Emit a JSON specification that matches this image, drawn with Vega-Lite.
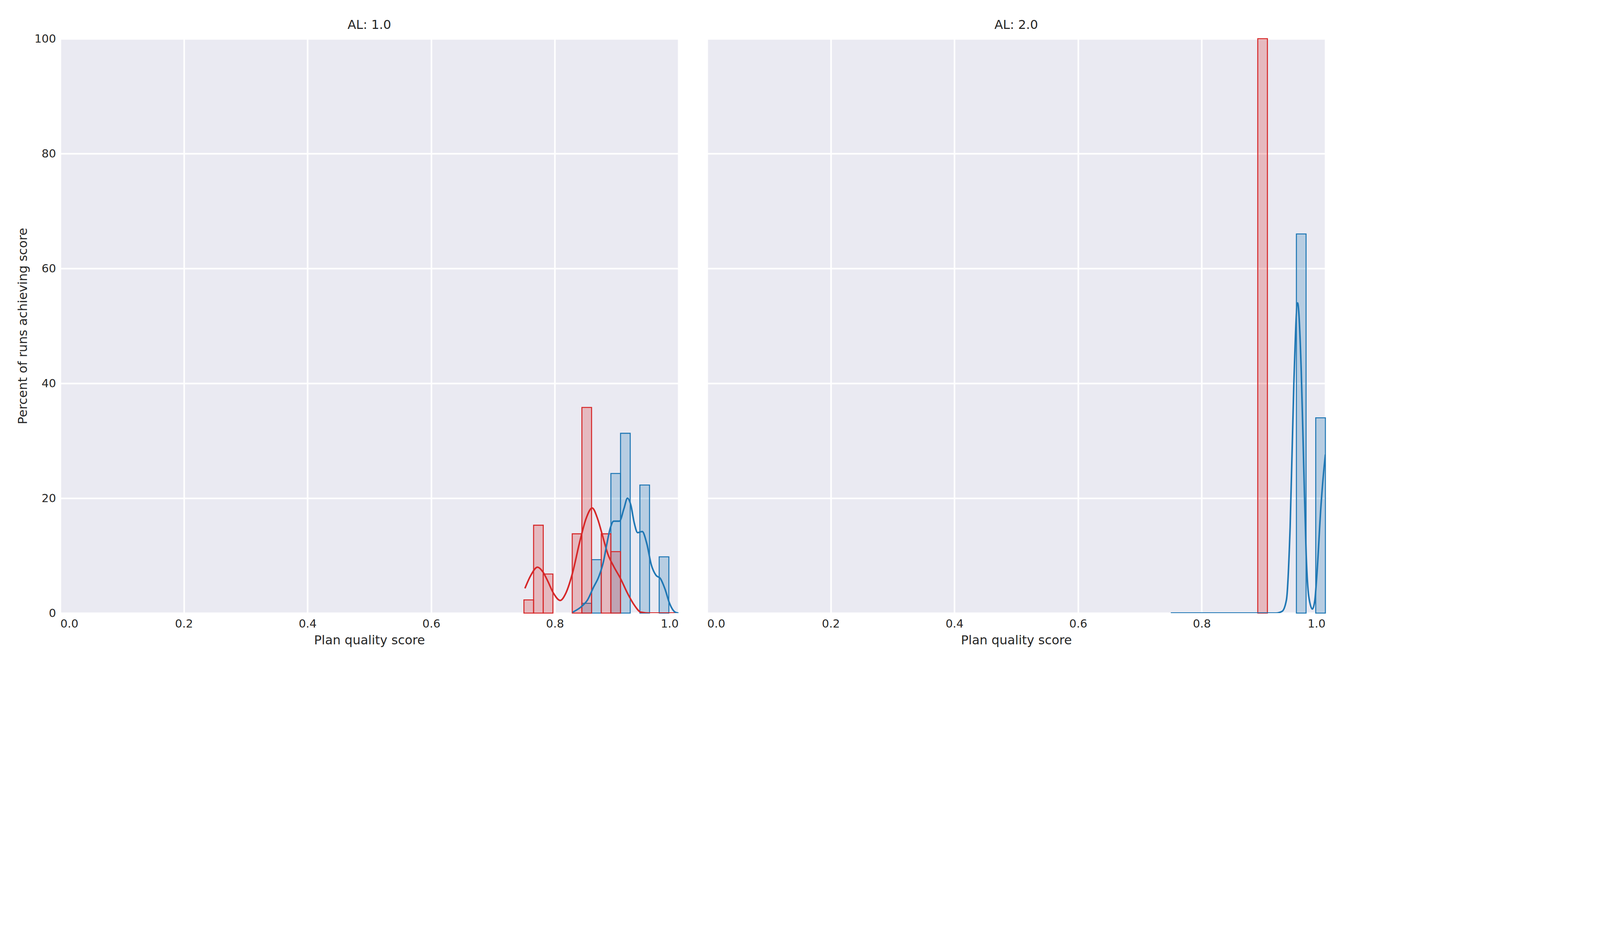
{
"$schema":"https://vega.github.io/schema/vega-lite/v6.json",
"background":"white",
"padding":{"left":42,"top":48,"right":20,"bottom":20},
"config":{"view":{"fill":"#EAEAF2","stroke":null},
"axis":{"domain":false,"ticks":false,"grid":true,"gridColor":"white","gridWidth":4,"labelFont":"DejaVu Sans","labelFontSize":29,"labelColor":"#262626","titleFont":"DejaVu Sans","titleFontSize":32,"titleFontWeight":"normal","titleColor":"#262626","labelPadding":11,"titlePadding":12},
"header":{"labelFont":"DejaVu Sans","labelFontSize":32,"labelColor":"#262626","title":null,"labelPadding":16},
"legend":{"titleFont":"DejaVu Sans","titleFontSize":34,"titleFontWeight":"normal","titleColor":"#262626","labelFont":"DejaVu Sans","labelFontSize":30,"labelColor":"#262626","symbolType":"square","symbolSize":800,"symbolStrokeWidth":2.6,"rowPadding":14,"titlePadding":15,"orient":"right","offset":45,"padding":0}},
"data":{"values":[
{"AL":"1.0","kind":"hist","action_planning":"sequential","x0":0.84375,"x1":0.859375,"y":1.7},
{"AL":"1.0","kind":"hist","action_planning":"sequential","x0":0.859375,"x1":0.875,"y":9.3},
{"AL":"1.0","kind":"hist","action_planning":"sequential","x0":0.890625,"x1":0.90625,"y":24.3},
{"AL":"1.0","kind":"hist","action_planning":"sequential","x0":0.90625,"x1":0.921875,"y":31.3},
{"AL":"1.0","kind":"hist","action_planning":"sequential","x0":0.9375,"x1":0.953125,"y":22.3},
{"AL":"1.0","kind":"hist","action_planning":"sequential","x0":0.96875,"x1":0.984375,"y":9.8},
{"AL":"1.0","kind":"hist","action_planning":"concurrent","x0":0.75,"x1":0.765625,"y":2.3},
{"AL":"1.0","kind":"hist","action_planning":"concurrent","x0":0.765625,"x1":0.78125,"y":15.3},
{"AL":"1.0","kind":"hist","action_planning":"concurrent","x0":0.78125,"x1":0.796875,"y":6.8},
{"AL":"1.0","kind":"hist","action_planning":"concurrent","x0":0.828125,"x1":0.84375,"y":13.8},
{"AL":"1.0","kind":"hist","action_planning":"concurrent","x0":0.84375,"x1":0.859375,"y":35.8},
{"AL":"1.0","kind":"hist","action_planning":"concurrent","x0":0.875,"x1":0.890625,"y":13.8},
{"AL":"1.0","kind":"hist","action_planning":"concurrent","x0":0.890625,"x1":0.90625,"y":10.7},
{"AL":"2.0","kind":"hist","action_planning":"concurrent","x0":0.890625,"x1":0.90625,"y":100},
{"AL":"2.0","kind":"hist","action_planning":"sequential","x0":0.953125,"x1":0.96875,"y":66},
{"AL":"2.0","kind":"hist","action_planning":"sequential","x0":0.984375,"x1":1.0,"y":34},
{"AL":"1.0","kind":"kde","action_planning":"concurrent","x0":0.7516,"y":4.3},
{"AL":"1.0","kind":"kde","action_planning":"concurrent","x0":0.7608,"y":6.5},
{"AL":"1.0","kind":"kde","action_planning":"concurrent","x0":0.7719,"y":8.0},
{"AL":"1.0","kind":"kde","action_planning":"concurrent","x0":0.7811,"y":7.1},
{"AL":"1.0","kind":"kde","action_planning":"concurrent","x0":0.7884,"y":5.6},
{"AL":"1.0","kind":"kde","action_planning":"concurrent","x0":0.7976,"y":3.5},
{"AL":"1.0","kind":"kde","action_planning":"concurrent","x0":0.8087,"y":2.2},
{"AL":"1.0","kind":"kde","action_planning":"concurrent","x0":0.8179,"y":3.5},
{"AL":"1.0","kind":"kde","action_planning":"concurrent","x0":0.8289,"y":7.1},
{"AL":"1.0","kind":"kde","action_planning":"concurrent","x0":0.84,"y":12.3},
{"AL":"1.0","kind":"kde","action_planning":"concurrent","x0":0.851,"y":16.6},
{"AL":"1.0","kind":"kde","action_planning":"concurrent","x0":0.8603,"y":18.3},
{"AL":"1.0","kind":"kde","action_planning":"concurrent","x0":0.8695,"y":16.3},
{"AL":"1.0","kind":"kde","action_planning":"concurrent","x0":0.8768,"y":13.6},
{"AL":"1.0","kind":"kde","action_planning":"concurrent","x0":0.886,"y":10.2},
{"AL":"1.0","kind":"kde","action_planning":"concurrent","x0":0.8953,"y":8.1},
{"AL":"1.0","kind":"kde","action_planning":"concurrent","x0":0.9063,"y":6.0},
{"AL":"1.0","kind":"kde","action_planning":"concurrent","x0":0.9173,"y":3.5},
{"AL":"1.0","kind":"kde","action_planning":"concurrent","x0":0.9284,"y":1.4},
{"AL":"1.0","kind":"kde","action_planning":"concurrent","x0":0.9394,"y":0.15},
{"AL":"1.0","kind":"kde","action_planning":"concurrent","x0":0.954,"y":0},
{"AL":"1.0","kind":"kde","action_planning":"concurrent","x0":0.9997,"y":0},
{"AL":"1.0","kind":"kde","action_planning":"sequential","x0":0.8289,"y":0.15},
{"AL":"1.0","kind":"kde","action_planning":"sequential","x0":0.8437,"y":1.2},
{"AL":"1.0","kind":"kde","action_planning":"sequential","x0":0.8529,"y":2.3},
{"AL":"1.0","kind":"kde","action_planning":"sequential","x0":0.8621,"y":4.4},
{"AL":"1.0","kind":"kde","action_planning":"sequential","x0":0.8713,"y":6.4},
{"AL":"1.0","kind":"kde","action_planning":"sequential","x0":0.8787,"y":9.0},
{"AL":"1.0","kind":"kde","action_planning":"sequential","x0":0.8842,"y":12.1},
{"AL":"1.0","kind":"kde","action_planning":"sequential","x0":0.8897,"y":14.8},
{"AL":"1.0","kind":"kde","action_planning":"sequential","x0":0.8952,"y":16.0},
{"AL":"1.0","kind":"kde","action_planning":"sequential","x0":0.9045,"y":16.0},
{"AL":"1.0","kind":"kde","action_planning":"sequential","x0":0.9118,"y":18.2},
{"AL":"1.0","kind":"kde","action_planning":"sequential","x0":0.9174,"y":20.0},
{"AL":"1.0","kind":"kde","action_planning":"sequential","x0":0.9229,"y":18.8},
{"AL":"1.0","kind":"kde","action_planning":"sequential","x0":0.9284,"y":15.7},
{"AL":"1.0","kind":"kde","action_planning":"sequential","x0":0.9339,"y":14.0},
{"AL":"1.0","kind":"kde","action_planning":"sequential","x0":0.9413,"y":14.2},
{"AL":"1.0","kind":"kde","action_planning":"sequential","x0":0.9487,"y":12.1},
{"AL":"1.0","kind":"kde","action_planning":"sequential","x0":0.956,"y":8.4},
{"AL":"1.0","kind":"kde","action_planning":"sequential","x0":0.9634,"y":6.6},
{"AL":"1.0","kind":"kde","action_planning":"sequential","x0":0.9708,"y":6.0},
{"AL":"1.0","kind":"kde","action_planning":"sequential","x0":0.9781,"y":4.2},
{"AL":"1.0","kind":"kde","action_planning":"sequential","x0":0.9855,"y":1.7},
{"AL":"1.0","kind":"kde","action_planning":"sequential","x0":0.9947,"y":0.15},
{"AL":"1.0","kind":"kde","action_planning":"sequential","x0":1.0,"y":0},
{"AL":"2.0","kind":"kde","action_planning":"sequential","x0":0.75,"y":0},
{"AL":"2.0","kind":"kde","action_planning":"sequential","x0":0.92,"y":0},
{"AL":"2.0","kind":"kde","action_planning":"sequential","x0":0.93,"y":0.3},
{"AL":"2.0","kind":"kde","action_planning":"sequential","x0":0.937,"y":2.3},
{"AL":"2.0","kind":"kde","action_planning":"sequential","x0":0.943,"y":15},
{"AL":"2.0","kind":"kde","action_planning":"sequential","x0":0.949,"y":40},
{"AL":"2.0","kind":"kde","action_planning":"sequential","x0":0.955,"y":54},
{"AL":"2.0","kind":"kde","action_planning":"sequential","x0":0.961,"y":42},
{"AL":"2.0","kind":"kde","action_planning":"sequential","x0":0.965,"y":25.5},
{"AL":"2.0","kind":"kde","action_planning":"sequential","x0":0.969,"y":10},
{"AL":"2.0","kind":"kde","action_planning":"sequential","x0":0.973,"y":3},
{"AL":"2.0","kind":"kde","action_planning":"sequential","x0":0.979,"y":0.7},
{"AL":"2.0","kind":"kde","action_planning":"sequential","x0":0.983,"y":2.3},
{"AL":"2.0","kind":"kde","action_planning":"sequential","x0":0.986,"y":6.3},
{"AL":"2.0","kind":"kde","action_planning":"sequential","x0":0.993,"y":18.9},
{"AL":"2.0","kind":"kde","action_planning":"sequential","x0":0.998,"y":25.5},
{"AL":"2.0","kind":"kde","action_planning":"sequential","x0":1.0,"y":27.6}
]},
"facet":{"column":{"field":"AL","type":"nominal","header":{"labelExpr":"'AL: ' + datum.value","labelOrient":"top"}}},
"spacing":71,
"spec":{
"width":1583,"height":1470,
"layer":[
{"transform":[{"filter":"datum.kind == 'hist'"}],
"mark":{"type":"rect","fillOpacity":0.25,"strokeWidth":2.6},
"encoding":{
"x":{"field":"x0","type":"quantitative","scale":{"domain":[0,1],"nice":false},"axis":{"values":[0,0.2,0.4,0.6,0.8,1.0],"format":".1f","title":"Plan quality score"}},
"x2":{"field":"x1"},
"y":{"field":"y","type":"quantitative","scale":{"domain":[0,100],"nice":false},"axis":{"values":[0,20,40,60,80,100],"title":"Percent of runs achieving score"}},
"y2":{"datum":0},
"fill":{"field":"action_planning","type":"nominal","scale":{"domain":["sequential","concurrent"],"range":["#1f77b4","#d62728"]},"title":"action_planning"},
"stroke":{"field":"action_planning","type":"nominal","scale":{"domain":["sequential","concurrent"],"range":["#1f77b4","#d62728"]},"title":"action_planning"},
"order":{"field":"action_planning","sort":"descending"}}},
{"transform":[{"filter":"datum.kind == 'kde'"}],
"mark":{"type":"line","strokeWidth":4,"interpolate":"monotone","clip":true},
"encoding":{
"x":{"field":"x0","type":"quantitative"},
"y":{"field":"y","type":"quantitative"},
"stroke":{"field":"action_planning","type":"nominal","legend":null},
"detail":{"field":"action_planning"}}}
]}
}
